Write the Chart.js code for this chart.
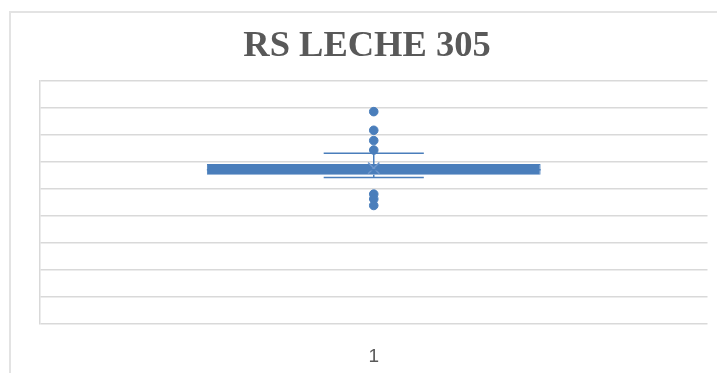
<!DOCTYPE html>
<html>
<head>
<meta charset="utf-8">
<script src="https://cdn.jsdelivr.net/npm/chart.js@4/dist/chart.umd.min.js"></script>
<style>
  body { margin: 0; background: #fff; }
  #wrap { position: relative; width: 717px; height: 373px; overflow: hidden; background: #fff; }
  #frame { position: absolute; left: 9px; top: 11px; width: 800px; height: 400px; border: 2px solid #e3e3e3; box-sizing: border-box; }
  #chart { position: absolute; left: 0; top: 0; }
</style>
</head>
<body>
<div id="wrap">
  <div id="frame"></div>
  <canvas id="chart" width="717" height="373"></canvas>
</div>
<script>
// box plot values (y axis has no labels, scale 0..9000 assumed)
const categories = ['1'];
const boxQ1 = [5530];
const boxQ3 = [5920];
const medians = [5710];
const means = [5770];
const whiskerMin = [5420];
const whiskerMax = [6320];
const outliers = [7860, 7170, 6790, 6440, 4810, 4630, 4390];
const yMin = 0;
const yMax = 9000;
const yStep = 1000;

const blue = '#4A7EBB';

// whiskers, caps and median line, drawn from the values through the scales
const whiskerPlugin = {
    id: 'whiskers',
    afterDatasetsDraw(chart) {
        const ctx = chart.ctx;
        const x = chart.scales.x;
        const y = chart.scales.y;
        const boxMeta = chart.getDatasetMeta(0);
        categories.forEach((c, i) => {
            const bar = boxMeta.data[i];
            const cx = x.getPixelForValue(i);
            const capHalf = bar.width * 0.15;
            ctx.save();
            ctx.strokeStyle = blue;
            ctx.lineWidth = 1.5;
            ctx.beginPath();
            ctx.moveTo(cx, y.getPixelForValue(boxQ3[i]));
            ctx.lineTo(cx, y.getPixelForValue(whiskerMax[i]));
            ctx.moveTo(cx, y.getPixelForValue(boxQ1[i]));
            ctx.lineTo(cx, y.getPixelForValue(whiskerMin[i]));
            ctx.moveTo(cx - capHalf, y.getPixelForValue(whiskerMax[i]));
            ctx.lineTo(cx + capHalf, y.getPixelForValue(whiskerMax[i]));
            ctx.moveTo(cx - capHalf, y.getPixelForValue(whiskerMin[i]));
            ctx.lineTo(cx + capHalf, y.getPixelForValue(whiskerMin[i]));
            ctx.stroke();
            ctx.beginPath();
            ctx.moveTo(bar.x - bar.width / 2, y.getPixelForValue(medians[i]));
            ctx.lineTo(bar.x + bar.width / 2, y.getPixelForValue(medians[i]));
            ctx.stroke();
            ctx.restore();
        });
    }
};

new Chart(document.getElementById('chart'), {
    data: {
        labels: categories,
        datasets: [{
            type: 'bar',
            data: categories.map((c, i) => [boxQ1[i], boxQ3[i]]),
            backgroundColor: blue,
            borderColor: blue,
            borderWidth: 1,
            barPercentage: 0.5,
            categoryPercentage: 1,
            order: 3
        }, {
            type: 'line',
            data: outliers.map(v => ({x: categories[0], y: v})),
            showLine: false,
            pointRadius: 4.3,
            pointBackgroundColor: blue,
            pointBorderColor: blue,
            order: 1
        }, {
            type: 'line',
            data: categories.map((c, i) => ({x: c, y: means[i]})),
            showLine: false,
            pointStyle: 'crossRot',
            pointRadius: 8,
            pointBorderWidth: 1.5,
            pointBorderColor: '#6F97CC',
            order: 0
        }]
    },
    options: {
        responsive: false,
        animation: false,
        layout: { padding: { left: 23, right: 6, top: 0, bottom: -16 } },
        plugins: {
            legend: { display: false },
            tooltip: { enabled: false },
            title: {
                display: true,
                text: 'RS LECHE 305',
                color: '#595959',
                font: { family: 'Liberation Serif', size: 36.5, weight: 'bold', lineHeight: 1.2 },
                padding: { top: 25, bottom: 12 }
            }
        },
        scales: {
            x: {
                type: 'category',
                grid: { display: false, drawTicks: false },
                border: { display: false },
                ticks: {
                    color: '#595959',
                    padding: 21,
                    font: { family: 'Liberation Sans', size: 19 }
                }
            },
            y: {
                min: yMin,
                max: yMax,
                afterFit: (s) => { s.width = 17; },
                grid: { color: '#d9d9d9', lineWidth: 1.5, drawTicks: false },
                border: { display: true, color: '#d9d9d9', width: 1.5 },
                ticks: { display: false, stepSize: yStep }
            }
        }
    },
    plugins: [whiskerPlugin]
});
</script>
</body>
</html>
